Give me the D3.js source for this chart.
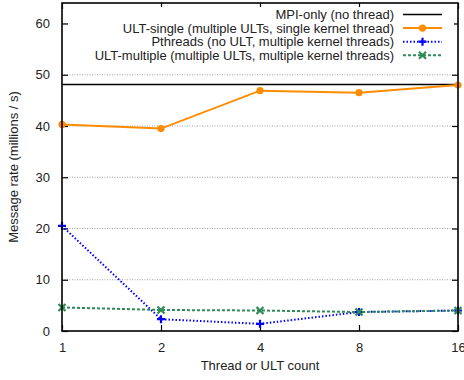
<!DOCTYPE html>
<html>
<head>
<meta charset="utf-8">
<script src="https://cdn.jsdelivr.net/npm/d3@7"></script>
<style>
  body { margin: 0; background: #fff; }
  text { font-family: "Liberation Sans", Arial, sans-serif; fill: #222; }
</style>
</head>
<body>
<div id="chart"></div>
<script>
// data
const threadCounts = [1, 2, 4, 8, 16];
const mpiOnly = 48.1;
const ultSingle = [40.3, 39.5, 46.9, 46.5, 48.0];
const pthreads = [20.5, 2.3, 1.4, 3.7, 4.0];
const ultMultiple = [4.6, 4.1, 4.0, 3.7, 4.0];
const yTicks = [0, 10, 20, 30, 40, 50, 60];
const legendLabels = [
    "MPI-only (no thread)",
    "ULT-single (multiple ULTs, single kernel thread)",
    "Pthreads (no ULT, multiple kernel threads)",
    "ULT-multiple (multiple ULTs, multiple kernel threads)"
];

const W = 464, H = 380;
const margin = {top: 3, right: 6, bottom: 49, left: 62};
const width = W - margin.left - margin.right;
const height = H - margin.top - margin.bottom;

const svg = d3.select("#chart").append("svg")
    .attr("width", W)
    .attr("height", H);

const g = svg.append("g")
    .attr("transform", "translate(" + margin.left + "," + margin.top + ")");

const x = d3.scaleLog().base(2).domain([1, 16]).range([0, width]);
const y = d3.scaleLinear().domain([0, 64]).range([height, 0]);

// grid
g.selectAll(".grid")
    .data(yTicks.filter(d => d > 0))
    .enter().append("line")
    .attr("class", "grid")
    .attr("x1", 0).attr("x2", width)
    .attr("y1", d => y(d)).attr("y2", d => y(d))
    .attr("stroke", "#888")
    .attr("stroke-width", 0.8)
    .attr("stroke-dasharray", "1,1.5");

// axes with inward ticks
const axisStyle = sel => {
    sel.select(".domain").remove();
    sel.selectAll(".tick line").attr("stroke", "#000").attr("stroke-width", 1.2);
    sel.selectAll(".tick text").style("font-size", "13px").attr("fill", "#222");
};

g.append("g")
    .attr("transform", "translate(0," + height + ")")
    .call(d3.axisBottom(x).tickValues(threadCounts).tickFormat(d3.format("d"))
        .tickSizeInner(-6).tickPadding(12))
    .call(axisStyle);

g.append("g")
    .call(d3.axisTop(x).tickValues(threadCounts).tickFormat("").tickSizeInner(-6))
    .call(axisStyle);

g.append("g")
    .call(d3.axisLeft(y).tickValues(yTicks).tickSizeInner(-6).tickPadding(12))
    .call(axisStyle);

g.append("g")
    .attr("transform", "translate(" + width + ",0)")
    .call(d3.axisRight(y).tickValues(yTicks).tickFormat("").tickSizeInner(-6))
    .call(axisStyle);

// legend background (opaque, hides grid)
g.append("rect")
    .attr("x", 8).attr("y", 4)
    .attr("width", width - 12).attr("height", 58)
    .attr("fill", "#fff");

// series
const series = [
    {values: threadCounts.map(() => mpiOnly), color: "#000", dash: null, width: 1.3, marker: "none"},
    {values: ultSingle, color: "#ff8c00", dash: null, width: 2, marker: "circle"},
    {values: pthreads, color: "#0000ff", dash: "1.5,2", width: 2, marker: "plus"},
    {values: ultMultiple, color: "#2e8b57", dash: "3,2", width: 2, marker: "cross"}
];

const line = d3.line()
    .x((d, i) => x(threadCounts[i]))
    .y(d => y(d));

function drawMarker(sel, type, color) {
    if (type === "circle") {
        sel.append("circle").attr("r", 3.6).attr("fill", color);
    } else if (type === "plus") {
        sel.append("path").attr("d", "M-4,0H4M0,-4V4")
            .attr("stroke", color).attr("stroke-width", 2.2);
    } else if (type === "cross") {
        sel.append("path").attr("d", "M-3.5,-3.5L3.5,3.5M-3.5,3.5L3.5,-3.5")
            .attr("stroke", color).attr("stroke-width", 2.2);
    }
}

series.forEach(s => {
    g.append("path")
        .datum(s.values)
        .attr("d", line)
        .attr("fill", "none")
        .attr("stroke", s.color)
        .attr("stroke-width", s.width)
        .attr("stroke-dasharray", s.dash);
    if (s.marker !== "none") {
        s.values.forEach((v, i) => {
            const m = g.append("g")
                .attr("transform", "translate(" + x(threadCounts[i]) + "," + y(v) + ")");
            drawMarker(m, s.marker, s.color);
        });
    }
});

// legend
const legend = g.append("g");
legendLabels.forEach((lab, i) => {
    const s = series[i];
    const ly = 11.5 + i * 13.6;
    legend.append("text")
        .attr("x", 332).attr("y", ly + 4.5)
        .attr("text-anchor", "end")
        .style("font-size", "13px")
        .text(lab);
    legend.append("line")
        .attr("x1", 341).attr("x2", 380)
        .attr("y1", ly).attr("y2", ly)
        .attr("stroke", s.color)
        .attr("stroke-width", s.width)
        .attr("stroke-dasharray", s.dash);
    if (s.marker !== "none") {
        const m = legend.append("g").attr("transform", "translate(360.5," + ly + ")");
        drawMarker(m, s.marker, s.color);
    }
});

// frame
g.append("rect")
    .attr("width", width).attr("height", height)
    .attr("fill", "none")
    .attr("stroke", "#000")
    .attr("stroke-width", 1.6);

// axis labels
svg.append("text")
    .attr("x", margin.left + width / 2)
    .attr("y", 370)
    .attr("text-anchor", "middle")
    .style("font-size", "13px")
    .text("Thread or ULT count");

svg.append("text")
    .attr("transform", "translate(18," + (margin.top + height / 2) + ") rotate(-90)")
    .attr("text-anchor", "middle")
    .style("font-size", "13px")
    .text("Message rate (millions / s)");
</script>
</body>
</html>
